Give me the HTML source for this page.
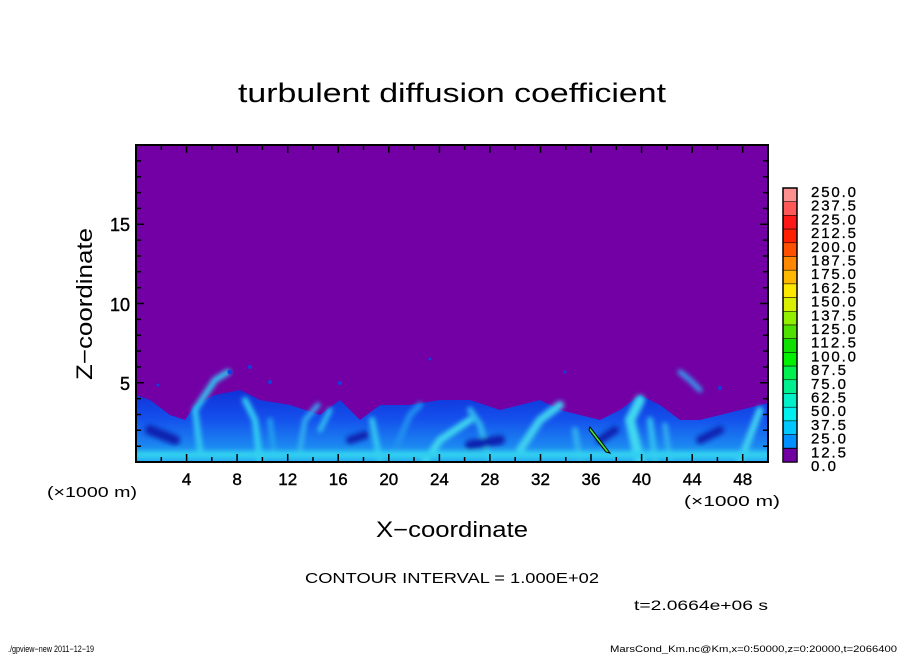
<!DOCTYPE html>
<html><head><style>
body{margin:0;background:#fff;}
svg{display:block;font-family:"Liberation Sans",sans-serif;}
</style></head><body>
<svg width="904" height="654" viewBox="0 0 904 654">
<defs>
<linearGradient id="lay" x1="0" y1="0" x2="0" y2="1">
<stop offset="0" stop-color="#1030d8"/>
<stop offset="0.4" stop-color="#1450ec"/>
<stop offset="1" stop-color="#20a8f4"/>
</linearGradient>
<filter id="bl"><feGaussianBlur stdDeviation="2.5"/></filter>
<clipPath id="pc"><rect x="136" y="145" width="632" height="317"/></clipPath>
</defs>
<text x="238" y="102" font-size="27" textLength="428" lengthAdjust="spacingAndGlyphs">turbulent diffusion coefficient</text>
<rect x="136" y="145" width="632" height="317" fill="#7200a4"/>
<g clip-path="url(#pc)">
<path d="M136,395 L150,400 L170,415 L185,420 L195,405 L215,395 L240,390 L260,400 L290,405 L320,415 L340,400 L360,420 L380,405 L410,405 L440,400 L470,400 L500,410 L520,405 L540,400 L560,410 L580,415 L600,420 L620,410 L640,395 L660,405 L680,420 L700,420 L720,415 L740,410 L768,403 L768,462 L136,462Z" fill="url(#lay)"/>
<g filter="url(#bl)" fill="none" stroke-linecap="round">
<path d="M200,450 L195,410 L215,380 L228,372" stroke="#30c8f0" stroke-width="6"/>
<path d="M260,462 L255,420 L245,400" stroke="#30d0f0" stroke-width="6"/>
<path d="M275,462 L270,420" stroke="#20a0f0" stroke-width="5"/>
<path d="M300,450 L305,420 L318,405" stroke="#30b0f0" stroke-width="5"/>
<path d="M320,430 L330,410" stroke="#30c0f0" stroke-width="5"/>
<path d="M380,462 L372,420" stroke="#30c8f0" stroke-width="6"/>
<path d="M395,450 L410,415 L420,405" stroke="#2090f0" stroke-width="6"/>
<path d="M425,462 L440,440 L470,420" stroke="#40d8f0" stroke-width="7"/>
<path d="M490,462 L480,425 L470,410" stroke="#30b8f0" stroke-width="6"/>
<path d="M520,450 L540,420 L560,405" stroke="#40d0f0" stroke-width="8"/>
<path d="M580,462 L575,430" stroke="#30b0f0" stroke-width="6"/>
<path d="M640,462 L630,420 L640,400" stroke="#40d8f0" stroke-width="10"/>
<path d="M655,462 L650,420" stroke="#30c0f0" stroke-width="6"/>
<path d="M670,462 L665,425" stroke="#30b0f0" stroke-width="5"/>
<path d="M680,372 L690,380 L700,390" stroke="#30a0f0" stroke-width="5"/>
<path d="M740,462 L760,410" stroke="#40d0f0" stroke-width="7"/>
<path d="M136,455 L768,455" stroke="#30d0f0" stroke-width="8"/>
<path d="M150,430 L175,440" stroke="#0a20b0" stroke-width="10"/>
<path d="M350,440 L365,435" stroke="#0a20b0" stroke-width="8"/>
<path d="M470,445 L500,440" stroke="#0a20b0" stroke-width="10"/>
<path d="M600,440 L615,430" stroke="#0a20b0" stroke-width="8"/>
<path d="M700,440 L720,430" stroke="#0a20b0" stroke-width="8"/>
</g>
<g fill="#1040e0">
<circle cx="230" cy="372" r="2.5"/><circle cx="250" cy="367" r="2"/><circle cx="270" cy="382" r="2"/><circle cx="158" cy="385" r="1.5"/><circle cx="340" cy="383" r="2"/><circle cx="430" cy="359" r="1.5"/><circle cx="565" cy="372" r="1.5"/><circle cx="720" cy="388" r="2"/>
</g>
<path d="M590,427 L607,449 L610,453 L606,452 L589,430Z" fill="#40e040" stroke="#000" stroke-width="1"/>
</g>
<rect x="136" y="145" width="632" height="317" fill="none" stroke="#000" stroke-width="2"/>
<g stroke="#000" stroke-width="1.5">
<path d="M161.3,462v-5M186.6,462v-8M211.8,462v-5M237.1,462v-8M262.4,462v-5M287.7,462v-8M313,462v-5M338.2,462v-8M363.5,462v-5M388.8,462v-8M414,462v-5M439.4,462v-8M464.6,462v-5M489.9,462v-8M515.2,462v-5M540.5,462v-8M565.8,462v-5M591,462v-8M616.3,462v-5M641.6,462v-8M666.9,462v-5M692.2,462v-8M717.4,462v-5M742.7,462v-8"/>
<path d="M161.3,145v5M186.6,145v8M211.8,145v5M237.1,145v8M262.4,145v5M287.7,145v8M313,145v5M338.2,145v8M363.5,145v5M388.8,145v8M414,145v5M439.4,145v8M464.6,145v5M489.9,145v8M515.2,145v5M540.5,145v8M565.8,145v5M591,145v8M616.3,145v5M641.6,145v8M666.9,145v5M692.2,145v8M717.4,145v5M742.7,145v8"/>
<path d="M136,446.2h5M136,430.3h5M136,414.5h5M136,398.6h5M136,382.8h8M136,366.9h5M136,351h5M136,335.2h5M136,319.4h5M136,303.5h8M136,287.7h5M136,271.8h5M136,256h5M136,240.1h5M136,224.3h8M136,208.4h5M136,192.6h5M136,176.7h5M136,160.9h5"/>
<path d="M768,446.2h-5M768,430.3h-5M768,414.5h-5M768,398.6h-5M768,382.8h-8M768,366.9h-5M768,351h-5M768,335.2h-5M768,319.4h-5M768,303.5h-8M768,287.7h-5M768,271.8h-5M768,256h-5M768,240.1h-5M768,224.3h-8M768,208.4h-5M768,192.6h-5M768,176.7h-5M768,160.9h-5"/>
</g>
<g font-size="17" text-anchor="middle" stroke="#000" stroke-width="0.4">
<text x="186.6" y="485">4</text><text x="237.1" y="485">8</text><text x="287.7" y="485">12</text><text x="338.2" y="485">16</text><text x="388.8" y="485">20</text><text x="439.4" y="485">24</text><text x="489.9" y="485">28</text><text x="540.5" y="485">32</text><text x="591" y="485">36</text><text x="641.6" y="485">40</text><text x="692.2" y="485">44</text><text x="742.7" y="485">48</text>
</g>
<g font-size="18" text-anchor="end" stroke="#000" stroke-width="0.4">
<text x="130" y="231">15</text><text x="130" y="311">10</text><text x="130" y="390">5</text>
</g>
<text x="47" y="497" font-size="15" textLength="90" lengthAdjust="spacingAndGlyphs">(×1000 m)</text>
<text x="684" y="506" font-size="15" textLength="96" lengthAdjust="spacingAndGlyphs">(×1000 m)</text>
<text x="376" y="537" font-size="22" textLength="152" lengthAdjust="spacingAndGlyphs">X−coordinate</text>
<text x="92" y="380" font-size="22" textLength="152" lengthAdjust="spacingAndGlyphs" transform="rotate(-90 92 380)">Z−coordinate</text>
<g stroke="#000" stroke-width="0.5">
<rect x="783" y="188" width="14" height="13.7" fill="#ff9090"/>
<rect x="783" y="201.7" width="14" height="13.7" fill="#ff5858"/>
<rect x="783" y="215.4" width="14" height="13.7" fill="#ff1818"/>
<rect x="783" y="229.1" width="14" height="13.7" fill="#ff2000"/>
<rect x="783" y="242.8" width="14" height="13.7" fill="#ff5000"/>
<rect x="783" y="256.5" width="14" height="13.7" fill="#ff8800"/>
<rect x="783" y="270.2" width="14" height="13.7" fill="#ffb800"/>
<rect x="783" y="283.9" width="14" height="13.7" fill="#ffe800"/>
<rect x="783" y="297.6" width="14" height="13.7" fill="#d8f000"/>
<rect x="783" y="311.3" width="14" height="13.7" fill="#90f000"/>
<rect x="783" y="325" width="14" height="13.7" fill="#50e000"/>
<rect x="783" y="338.7" width="14" height="13.7" fill="#10e000"/>
<rect x="783" y="352.4" width="14" height="13.7" fill="#00f000"/>
<rect x="783" y="366.1" width="14" height="13.7" fill="#00f050"/>
<rect x="783" y="379.8" width="14" height="13.7" fill="#00f090"/>
<rect x="783" y="393.5" width="14" height="13.7" fill="#00f0c8"/>
<rect x="783" y="407.2" width="14" height="13.7" fill="#00f0f0"/>
<rect x="783" y="420.9" width="14" height="13.7" fill="#00c8ff"/>
<rect x="783" y="434.6" width="14" height="13.7" fill="#0090ff"/>
<rect x="783" y="448.3" width="14" height="13.7" fill="#0060f8"/>
</g>
<rect x="783" y="188" width="14" height="274" fill="none" stroke="#000" stroke-width="1.5"/>
<rect x="783" y="448.3" width="14" height="13.7" fill="#7000a0" stroke="#000" stroke-width="1"/>
<g font-size="15" stroke="#000" stroke-width="0.3" lengthAdjust="spacingAndGlyphs">
<text x="811" y="197" textLength="45">250.0</text><text x="811" y="210.7" textLength="45">237.5</text><text x="811" y="224.4" textLength="45">225.0</text><text x="811" y="238.1" textLength="45">212.5</text><text x="811" y="251.8" textLength="45">200.0</text><text x="811" y="265.5" textLength="45">187.5</text><text x="811" y="279.2" textLength="45">175.0</text><text x="811" y="292.9" textLength="45">162.5</text><text x="811" y="306.6" textLength="45">150.0</text><text x="811" y="320.3" textLength="45">137.5</text><text x="811" y="334" textLength="45">125.0</text><text x="811" y="347.7" textLength="45">112.5</text><text x="811" y="361.4" textLength="45">100.0</text><text x="811" y="375.1" textLength="35">87.5</text><text x="811" y="388.8" textLength="35">75.0</text><text x="811" y="402.5" textLength="35">62.5</text><text x="811" y="416.2" textLength="35">50.0</text><text x="811" y="429.9" textLength="35">37.5</text><text x="811" y="443.6" textLength="35">25.0</text><text x="811" y="457.3" textLength="35">12.5</text><text x="811" y="471" textLength="25">0.0</text>
</g>
<text x="305" y="583" font-size="15" textLength="294" lengthAdjust="spacingAndGlyphs">CONTOUR INTERVAL = 1.000E+02</text>
<text x="634" y="610" font-size="14" textLength="134" lengthAdjust="spacingAndGlyphs">t=2.0664e+06 s</text>
<text x="8" y="652" font-size="9" textLength="86" lengthAdjust="spacingAndGlyphs">./gpview−new  2011−12−19</text>
<text x="610" y="652" font-size="9" textLength="287" lengthAdjust="spacingAndGlyphs">MarsCond_Km.nc@Km,x=0:50000,z=0:20000,t=2066400</text>
</svg>
</body></html>
